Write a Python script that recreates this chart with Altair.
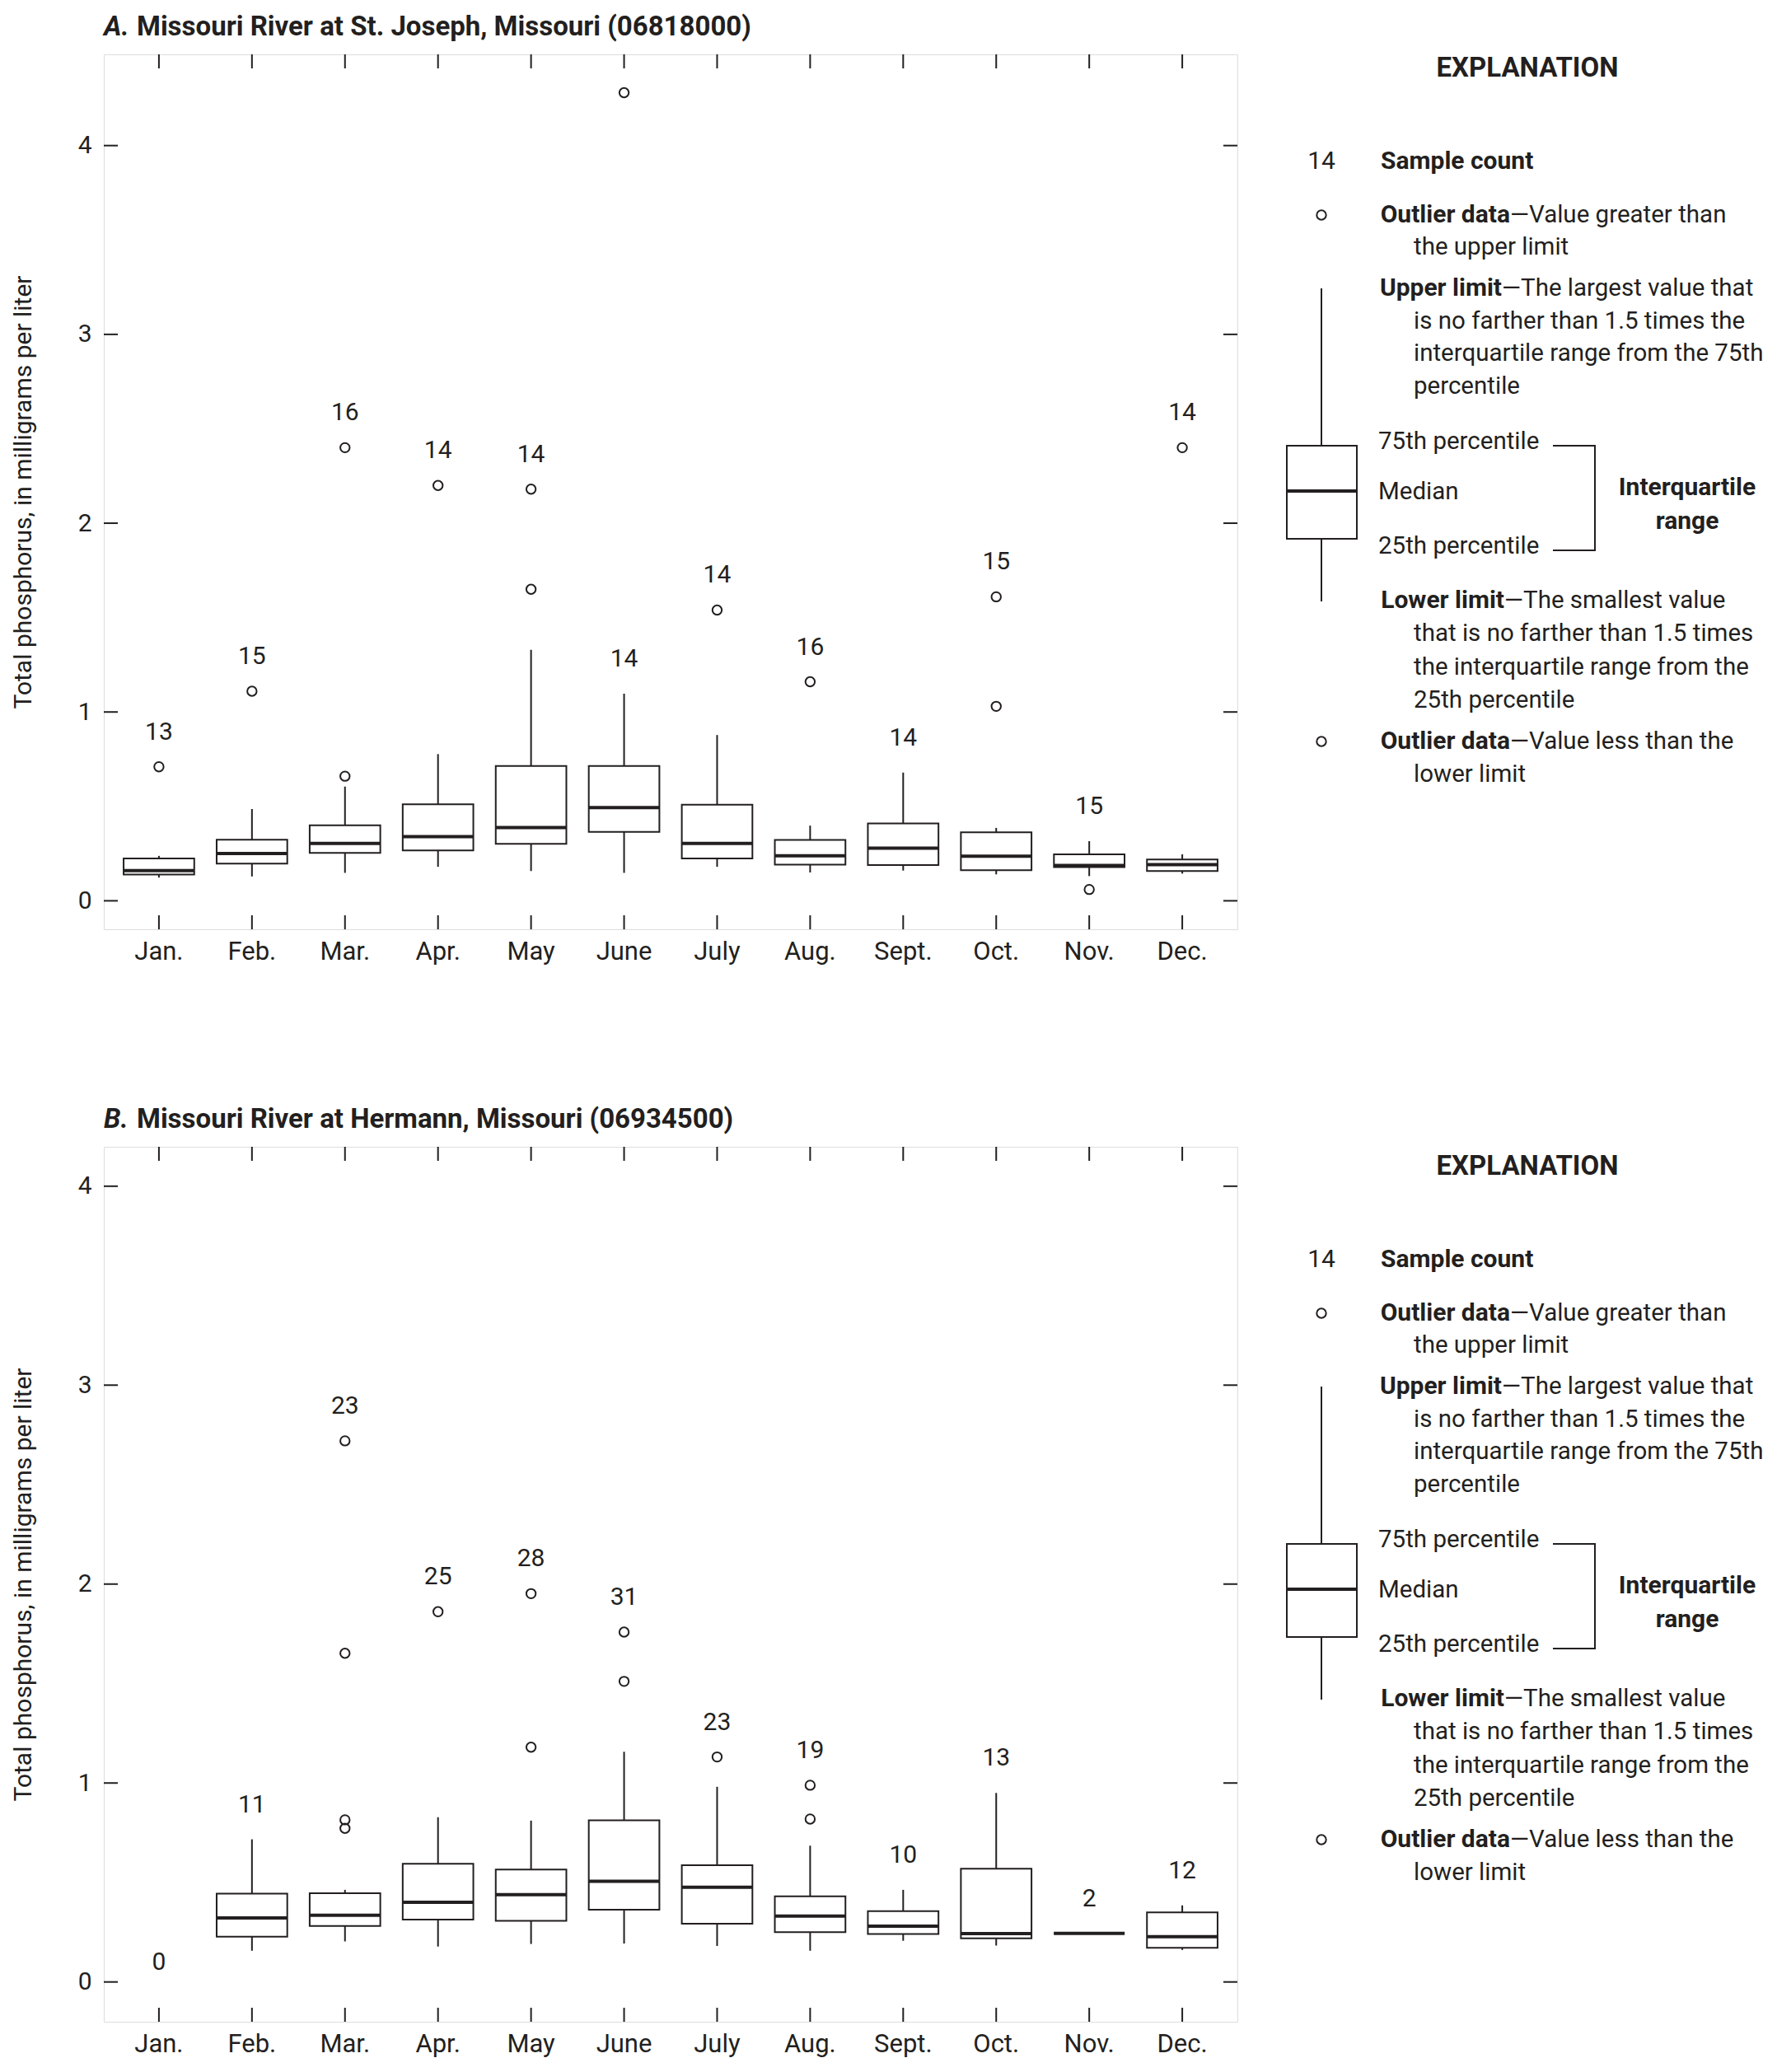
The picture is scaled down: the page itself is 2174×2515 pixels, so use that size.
import altair as alt
import pandas as pd

# ---------------- data ----------------
months = ["Jan.", "Feb.", "Mar.", "Apr.", "May", "June",
          "July", "Aug.", "Sept.", "Oct.", "Nov.", "Dec."]

# Panel A - Missouri River at St. Joseph
a_lo  = [0.123, 0.129, 0.148, 0.180, 0.158, 0.148, 0.180, 0.150, 0.160, 0.140, 0.131, 0.144]
a_q1  = [0.139, 0.197, 0.254, 0.267, 0.302, 0.365, 0.224, 0.191, 0.189, 0.162, 0.178, 0.158]
a_med = [0.160, 0.250, 0.304, 0.340, 0.388, 0.494, 0.304, 0.238, 0.279, 0.236, 0.187, 0.191]
a_q3  = [0.224, 0.324, 0.400, 0.511, 0.714, 0.714, 0.509, 0.322, 0.410, 0.363, 0.246, 0.219]
a_hi  = [0.238, 0.486, 0.605, 0.777, 1.329, 1.097, 0.878, 0.398, 0.679, 0.386, 0.316, 0.246]
a_n   = [13, 15, 16, 14, 14, 14, 14, 16, 14, 15, 15, 14]
a_label_at = [0.71, 1.11, 2.40, 2.20, 2.18, 1.097, 1.54, 1.16, 0.679, 1.61, 0.316, 2.40]
a_out_month = ["Jan.", "Feb.", "Mar.", "Mar.", "Apr.", "May", "May", "June",
               "July", "Aug.", "Oct.", "Oct.", "Nov.", "Dec."]
a_out_value = [0.71, 1.11, 0.66, 2.40, 2.20, 2.18, 1.65, 4.28,
               1.54, 1.16, 1.61, 1.03, 0.06, 2.40]

# Panel B - Missouri River at Hermann
b_lo  = [None, 0.157, 0.204, 0.178, 0.191, 0.193, 0.181, 0.157, 0.207, 0.183, 0.244, 0.161]
b_q1  = [None, 0.228, 0.281, 0.313, 0.307, 0.363, 0.293, 0.250, 0.241, 0.219, 0.244, 0.172]
b_med = [None, 0.322, 0.335, 0.400, 0.439, 0.506, 0.476, 0.331, 0.280, 0.243, 0.244, 0.228]
b_q3  = [None, 0.444, 0.446, 0.594, 0.565, 0.813, 0.587, 0.431, 0.356, 0.569, 0.244, 0.350]
b_hi  = [None, 0.717, 0.463, 0.828, 0.811, 1.157, 0.981, 0.685, 0.463, 0.950, 0.244, 0.385]
b_n   = [0, 11, 23, 25, 28, 31, 23, 19, 10, 13, 2, 12]
b_label_at = [0.0, 0.717, 2.72, 1.861, 1.952, 1.759, 1.131, 0.989, 0.463, 0.950, 0.244, 0.385]
b_out_month = ["Mar.", "Mar.", "Mar.", "Mar.", "Apr.", "May", "May",
               "June", "June", "July", "Aug.", "Aug."]
b_out_value = [0.815, 0.772, 1.652, 2.72, 1.861, 1.952, 1.18,
               1.759, 1.511, 1.131, 0.989, 0.819]

y_tick_values = [0, 1, 2, 3, 4]
y_title = "Total phosphorus, in milligrams per liter"

# ---------------- styling ----------------
FONT = "Roboto"
INK = "#231f20"
W, H = 1376, 1062
TICK = 17
BOXW = 86
SYM = 130
FS_BODY = 29.5
FS_BOLD = 30

# legend lines: (text, x, y, weight, align, size)
legend_text = [
    ("EXPLANATION", 1728, 17, "bold", "center", 33),
    ("14", 1478, 130, "normal", "center", 30),
    ("Sample count", 1550, 130, "bold", "left", FS_BOLD),
    ("Outlier data", 1707, 195, "bold", "right", FS_BOLD),
    ("\u2014Value greater than", 1707, 195, "normal", "left", FS_BODY),
    ("the upper limit", 1590, 234, "normal", "left", FS_BODY),
    ("Upper limit", 1697, 284, "bold", "right", FS_BOLD),
    ("\u2014The largest value that", 1697, 284, "normal", "left", FS_BODY),
    ("is no farther than 1.5 times the", 1590, 324, "normal", "left", FS_BODY),
    ("interquartile range from the 75th", 1590, 363, "normal", "left", FS_BODY),
    ("percentile", 1590, 403, "normal", "left", FS_BODY),
    ("75th percentile", 1547, 470, "normal", "left", FS_BODY),
    ("Median", 1547, 531, "normal", "left", FS_BODY),
    ("25th percentile", 1547, 597, "normal", "left", FS_BODY),
    ("Interquartile", 1922, 526, "bold", "center", FS_BOLD),
    ("range", 1922, 567, "bold", "center", FS_BOLD),
    ("Lower limit", 1700, 663, "bold", "right", FS_BOLD),
    ("\u2014The smallest value", 1700, 663, "normal", "left", FS_BODY),
    ("that is no farther than 1.5 times", 1590, 703, "normal", "left", FS_BODY),
    ("the interquartile range from the", 1590, 744, "normal", "left", FS_BODY),
    ("25th percentile", 1590, 784, "normal", "left", FS_BODY),
    ("Outlier data", 1707, 834, "bold", "right", FS_BOLD),
    ("\u2014Value less than the", 1707, 834, "normal", "left", FS_BODY),
    ("lower limit", 1590, 874, "normal", "left", FS_BODY),
]


def one():
    return alt.Data(values=[{"k": 0}])


def legend_layers(dy):
    layers = []
    for (txt, x, y, wt, al, fs) in legend_text:
        layers.append(
            alt.Chart(one()).mark_text(
                font=FONT, fontSize=fs, fontWeight=wt, align=al,
                baseline="middle", color=INK
            ).encode(x=alt.value(x), y=alt.value(y + dy), text=alt.value(txt))
        )
    # upper / lower outlier symbols
    for yy in (195, 834):
        layers.append(
            alt.Chart(one()).mark_point(
                shape="circle", filled=False, stroke=INK, strokeWidth=2,
                size=SYM, opacity=1
            ).encode(x=alt.value(1478), y=alt.value(yy + dy))
        )
    # whiskers
    for (y1, y2) in ((284, 475), (588, 664)):
        layers.append(
            alt.Chart(one()).mark_rule(color=INK, strokeWidth=2).encode(
                x=alt.value(1478), y=alt.value(y1 + dy), y2=alt.value(y2 + dy))
        )
    # box
    layers.append(
        alt.Chart(one()).mark_rect(fill="white", stroke=INK, strokeWidth=2).encode(
            x=alt.value(1436), x2=alt.value(1521),
            y=alt.value(475 + dy), y2=alt.value(588 + dy))
    )
    layers.append(
        alt.Chart(one()).mark_rule(color=INK, strokeWidth=4).encode(
            x=alt.value(1436), x2=alt.value(1521), y=alt.value(530 + dy))
    )
    # bracket
    for yy in (475, 602):
        layers.append(
            alt.Chart(one()).mark_rule(color=INK, strokeWidth=2).encode(
                x=alt.value(1759), x2=alt.value(1811), y=alt.value(yy + dy))
        )
    layers.append(
        alt.Chart(one()).mark_rule(color=INK, strokeWidth=2).encode(
            x=alt.value(1810), y=alt.value(475 + dy), y2=alt.value(602 + dy))
    )
    return layers


def panel(letter, title, lo, q1, med, q3, hi, n, label_at, out_m, out_v, ydom, leg_dy):
    stats = pd.DataFrame(dict(month=months, lo=lo, q1=q1, med=med, q3=q3,
                              hi=hi, n=n, at=label_at))
    outs = pd.DataFrame(dict(month=out_m, value=out_v))
    yt = pd.DataFrame(dict(v=y_tick_values))

    xs = alt.Scale(domain=months, paddingInner=0.241, paddingOuter=0.213)
    ys = alt.Scale(domain=ydom, nice=False, zero=False)
    xaxis = alt.Axis(title=None, labelAngle=0, ticks=False, tickSize=0, domain=False,
                     grid=False, labelFont=FONT, labelFontSize=31, labelColor=INK,
                     labelPadding=12)
    yaxis = alt.Axis(title=y_title, values=y_tick_values, format="d", ticks=False,
                     tickSize=0, domain=False, grid=False, labelFont=FONT,
                     labelFontSize=30, labelColor=INK, labelPadding=15,
                     titleFont=FONT, titleFontSize=30, titleFontWeight="normal",
                     titleColor=INK, titlePadding=51)

    def X():
        return alt.X("month:N", scale=xs, sort=months, axis=xaxis)

    def Y(f):
        return alt.Y(f"{f}:Q", scale=ys, axis=yaxis)

    base = alt.Chart(stats)
    whisk = base.mark_rule(color=INK, strokeWidth=2).encode(
        x=X(), y=Y("lo"), y2=alt.Y2("hi"))
    box = base.mark_bar(fill="white", stroke=INK, strokeWidth=2).encode(
        x=X(), y=Y("q1"), y2=alt.Y2("q3"))
    medl = base.mark_tick(color=INK, thickness=4, size=BOXW, opacity=1).encode(
        x=X(), y=Y("med"))
    pts = alt.Chart(outs).mark_point(
        shape="circle", filled=False, stroke=INK, strokeWidth=2, size=SYM, opacity=1
    ).encode(x=X(), y=Y("value"))
    cnt = base.mark_text(font=FONT, fontSize=30, color=INK, baseline="middle",
                         dy=-42).encode(x=X(), y=Y("at"), text="n:Q"
                                        ).transform_filter("datum.n > 0")
    cnt0 = base.mark_text(font=FONT, fontSize=30, color=INK, baseline="middle",
                          dy=-24).encode(x=X(), y=Y("at"), text="n:Q"
                                         ).transform_filter("datum.n == 0")
    # inward frame ticks
    xt_top = base.mark_rule(color=INK, strokeWidth=2).encode(
        x=X(), y=alt.value(0), y2=alt.value(TICK))
    xt_bot = base.mark_rule(color=INK, strokeWidth=2).encode(
        x=X(), y=alt.value(H - TICK), y2=alt.value(H))
    yt_l = alt.Chart(yt).mark_rule(color=INK, strokeWidth=2).encode(
        y=Y("v"), x=alt.value(0), x2=alt.value(TICK))
    yt_r = alt.Chart(yt).mark_rule(color=INK, strokeWidth=2).encode(
        y=Y("v"), x=alt.value(W - TICK), x2=alt.value(W))
    # title (italic letter + bold text)
    t1 = alt.Chart(one()).mark_text(
        font=FONT, fontSize=33, fontWeight="bold", fontStyle="italic",
        align="left", baseline="middle", color=INK
    ).encode(x=alt.value(0), y=alt.value(-33), text=alt.value(letter))
    t2 = alt.Chart(one()).mark_text(
        font=FONT, fontSize=33, fontWeight="bold",
        align="left", baseline="middle", color=INK
    ).encode(x=alt.value(40), y=alt.value(-33), text=alt.value(title))

    layers = [whisk, box, medl, pts, cnt, cnt0, xt_top, xt_bot, yt_l, yt_r, t1, t2]
    layers += legend_layers(leg_dy)
    return alt.layer(*layers).properties(width=W, height=H)


pa = panel("A.", "Missouri River at St. Joseph, Missouri (06818000)",
           a_lo, a_q1, a_med, a_q3, a_hi, a_n, a_label_at,
           a_out_month, a_out_value, [-0.151, 4.483], 0)
pb = panel("B.", "Missouri River at Hermann, Missouri (06934500)",
           b_lo, b_q1, b_med, b_q3, b_hi, b_n, b_label_at,
           b_out_month, b_out_value, [-0.200, 4.198], 7)

chart = alt.vconcat(pa, pb, spacing=171).properties(
    padding={"left": 4, "top": 8, "right": 0, "bottom": 0}
).configure_view(stroke=INK, strokeWidth=2).configure(background="white")

chart.save("out.html", embed_options={"renderer": "svg", "actions": False})
